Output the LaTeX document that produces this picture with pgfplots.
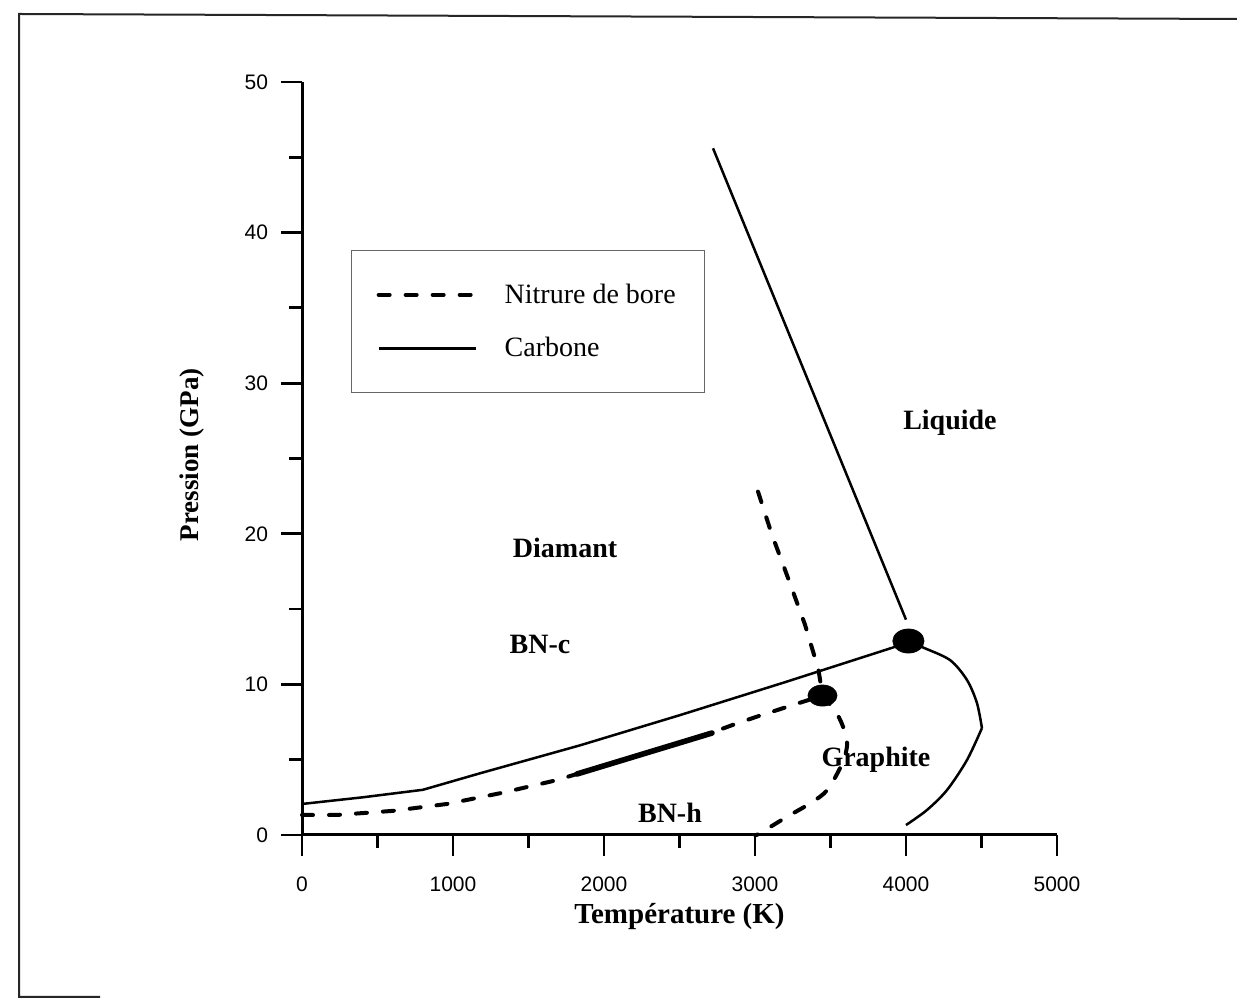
\documentclass[border=0pt]{standalone}
\usepackage{pgfplots}
\pgfplotsset{compat=1.18}
\usepackage{fontspec}
\setmainfont{Liberation Serif}
\newfontfamily\ticksf{Liberation Sans}

\begin{document}
\begin{tikzpicture}
\path[use as bounding box] (0,0) rectangle (618.5pt,500.5pt);
\draw[line width=1pt, black!85] (618.5pt,491pt) -- (9.5pt,493.5pt) -- (9.5pt,2pt) -- (50pt,2pt);
\begin{axis}[
  at={(151pt,83pt)}, anchor=south west,
  width=377.5pt, height=376.5pt, scale only axis,
  xmin=0, xmax=5000, ymin=0, ymax=50,
  axis x line*=bottom, axis y line*=left,
  axis line style={line width=1.5pt},
  xtick={0,1000,...,5000}, minor xtick={500,1500,...,4500},
  ytick={0,10,...,50}, minor ytick={5,15,...,45},
  tick align=outside,
  major tick length=10.5pt, minor tick length=6.5pt,
  every tick/.style={line width=1.4pt, black},
  scaled x ticks=false,
  /pgf/number format/assume math mode=true,
  /pgf/number format/set thousands separator={},
  ticklabel style={font=\ticksf\fontsize{10.5}{12}\selectfont},
  xticklabel style={yshift=-7pt},
  yticklabel style={xshift=-3pt},
  xlabel={Température (K)},
  ylabel={Pression (GPa)},
  xlabel style={font=\bfseries\fontsize{14.5}{16}\selectfont, at={(axis description cs:0.5,-0.1089)}, anchor=center},
  ylabel style={font=\bfseries\fontsize{13.5}{16}\selectfont, at={(axis description cs:-0.1457,0.505)}, anchor=center},
  legend style={at={(axis cs:325,38.84)}, anchor=north west, draw=black!60, line width=0.6pt,
    inner xsep=12.5pt, inner ysep=14.5pt, row sep=11.5pt, column sep=11.5pt,
    font=\fontsize{14}{15}\selectfont, nodes={inner sep=2pt}},
  legend cell align=left,
  legend image code/.code={\draw[#1] (0pt,0pt) -- (48.5pt,0pt);},
  clip=false,
]
\addlegendimage{black, line width=2pt, line cap=round, dash pattern=on 5.5pt off 8pt}
\addlegendentry{Nitrure de bore}
\addlegendimage{black, line width=1.25pt}
\addlegendentry{Carbone}

% Nitrure de bore : BN-h / BN-c
\addplot[forget plot, black, line width=2pt, line cap=round, dash pattern=on 5.5pt off 8pt] coordinates {
(0,1.33) (230,1.33) (600,1.6) (960,2.06) (1325,2.8) (1690,3.65) (1820,4.05) (2300,5.5) (2715,6.8) (2850,7.3) (3010,7.85) (3210,8.5) (3447,9.26)};
\addplot[forget plot, black, line width=2.8pt, line cap=round] coordinates {(1821,4.05) (2715,6.77)};
% BN-c / liquide
\addplot[forget plot, black, line width=2pt, line cap=round, dash pattern=on 5.5pt off 8pt] coordinates {
(3020,22.8) (3110,20) (3210,17.3) (3330,14) (3420,11) (3447,9.26)};
% BN-h / liquide
\addplot[forget plot, black, line width=2pt, line cap=round, dash pattern=on 5.5pt off 8pt, smooth, tension=0.5] coordinates {
(3447,9.26) (3540,8.1) (3590,7.0) (3610,6.0) (3580,4.8) (3480,3.0) (3365,2.1) (3210,1.2) (3030,0.1) (3000,0)};

% Carbone : graphite / diamant
\addplot[forget plot, black, line width=1.25pt] coordinates {
(0,2.06) (400,2.5) (800,3.0) (1180,4.1) (1840,5.95) (2500,7.95) (3200,10.15) (3914,12.45) (4016,12.88)};
% diamant / liquide
\addplot[forget plot, black, line width=1.25pt] coordinates {(2722,45.6) (4000,14.3)};
% graphite / liquide
\addplot[forget plot, black, line width=1.25pt, smooth, tension=0.5] coordinates {
(4016,12.88) (4106,12.48) (4291,11.62) (4404,10.29) (4470,8.76) (4503,7.10)};
\addplot[forget plot, black, line width=1.25pt, smooth, tension=0.5] coordinates {
(4503,7.10) (4404,4.98) (4272,2.99) (4139,1.66) (4000,0.66)};

% points triples
\addplot[forget plot, only marks, mark=*, mark size=6pt, mark options={xscale=1.3, fill=black, draw=black}] coordinates {(4016,12.88)};
\addplot[forget plot, only marks, mark=*, mark size=5.25pt, mark options={xscale=1.38, fill=black, draw=black}] coordinates {(3447,9.26)};

\begin{scope}[font=\bfseries\fontsize{14}{16}\selectfont]
\node[anchor=base] at (axis cs:1742,18.4) {Diamant};
\node[anchor=base] at (axis cs:1576,12.08) {BN-c};
\node[anchor=base] at (axis cs:4291,26.9) {Liquide};
\node[anchor=base] at (axis cs:3801,4.52) {Graphite};
\node[anchor=base] at (axis cs:2437,0.86) {BN-h};
\end{scope}
\end{axis}
\end{tikzpicture}
\end{document}
